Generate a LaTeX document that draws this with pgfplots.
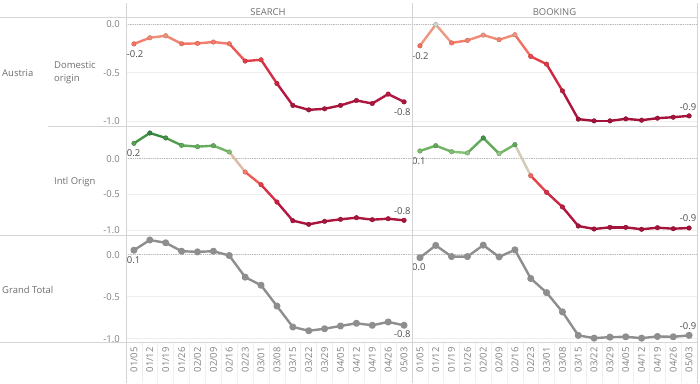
\documentclass[border=0pt]{standalone}
\usepackage{pgfplots}
\usepackage{pgfplotstable}
\pgfplotsset{compat=1.18}
\usepackage{fontspec}
\setmainfont{Open Sans}
\definecolor{hdr}{HTML}{6E6E6E}
\definecolor{tickc}{HTML}{808080}
\definecolor{border}{HTML}{D4D4D4}
\definecolor{gridc}{HTML}{EFEFEF}
\definecolor{zeroc}{HTML}{BDBDBD}
\definecolor{lbl}{HTML}{4D4D4D}
\definecolor{tot}{HTML}{8E8E8E}

\pgfplotstableread{
x sd bd si bi st bt
0 -0.200 -0.220 0.215 0.108 0.054 -0.035
1 -0.137 0.000 0.359 0.182 0.175 0.111
2 -0.116 -0.190 0.290 0.098 0.142 -0.022
3 -0.199 -0.164 0.187 0.080 0.042 -0.022
4 -0.195 -0.109 0.168 0.290 0.034 0.114
5 -0.181 -0.157 0.182 0.070 0.042 -0.026
6 -0.199 -0.105 0.094 0.196 -0.010 0.058
7 -0.378 -0.330 -0.186 -0.238 -0.267 -0.283
8 -0.365 -0.410 -0.364 -0.470 -0.364 -0.452
9 -0.610 -0.686 -0.606 -0.675 -0.612 -0.681
10 -0.837 -0.979 -0.867 -0.941 -0.861 -0.961
11 -0.883 -0.997 -0.918 -0.983 -0.906 -0.994
12 -0.872 -0.997 -0.876 -0.960 -0.882 -0.982
13 -0.837 -0.976 -0.848 -0.960 -0.849 -0.978
14 -0.786 -0.990 -0.825 -0.987 -0.817 -0.994
15 -0.817 -0.969 -0.853 -0.965 -0.841 -0.974
16 -0.720 -0.959 -0.839 -0.979 -0.801 -0.978
17 -0.800 -0.945 -0.862 -0.969 -0.841 -0.961
}\data

\tikzset{dlab/.style={font=\fontsize{9.5}{11}\selectfont, text=lbl, inner sep=0pt}}
\pgfplotsset{
  colormap={rg}{rgb255(0cm)=(163,18,58) rgb255(5cm)=(180,22,62) rgb255(10cm)=(212,45,70) rgb255(13cm)=(230,66,72) rgb255(16cm)=(245,118,102) rgb255(18cm)=(238,152,128) rgb255(20cm)=(206,215,195) rgb255(22cm)=(125,190,108) rgb255(24cm)=(92,166,86) rgb255(27cm)=(52,132,62) rgb255(30cm)=(36,105,61)},
  pane/.style={scale only axis, xmin=-0.5, xmax=17.5,
    axis line style={draw=none}, major tick length=0pt,
    xtick=\empty, ytick={-1,-0.5,0},
    ymajorgrids, grid style={draw=gridc, line width=0.8bp},
    tick label style={font=\fontsize{9.5}{11}\selectfont, text=tickc, inner sep=0pt},
    yticklabel style={xshift=-6bp},
    point meta min=-1, point meta max=0.5, colormap name=rg,
    clip=false, anchor=south west},
  searchc/.style={pane, width=286bp, yticklabels={-1.0,-0.5,0.0}},
  bookc/.style={pane, width=285bp, yticklabels={\empty,\empty,\empty}},
  row1/.style={height=108.7bp, ymin=-1.05, ymax=0.075},
  row2/.style={height=109bp, ymin=-1.067, ymax=0.457},
  row3/.style={height=107.5bp, ymin=-1.046, ymax=0.235},
  bottomx/.style={xtick={0,...,17},
    xticklabels={01/05,01/12,01/19,01/26,02/02,02/09,02/16,02/23,03/01,03/08,03/15,03/22,03/29,04/05,04/12,04/19,04/26,05/03},
    xticklabel style={rotate=90, anchor=east}, xticklabel shift=4.5bp},
}
\newcommand{\zeroline}{\draw[densely dotted, zeroc, line width=0.8bp] (axis cs:-0.5,0) -- (axis cs:17.5,0);}
\newcommand{\colseries}[1]{%
  \addplot[mesh, line width=2.4bp, line join=round, line cap=round, point meta=y] table[x=x,y=#1] {\data};
  \addplot[scatter, only marks, mark=*, mark size=2.3bp, scatter src=y] table[x=x,y=#1] {\data};
}
\newcommand{\greyseries}[1]{%
  \addplot[tot, line width=2.4bp, line join=round, mark=*, mark size=2.3bp] table[x=x,y=#1] {\data};
}

\begin{document}
\begin{tikzpicture}[x=1bp,y=1bp]
\path[use as bounding box] (0,0) rectangle (700,383);

% Row 1: Austria Domestic origin
\begin{axis}[searchc, row1, at={(126bp,257bp)}]
\zeroline
\colseries{sd}
\node[dlab, anchor=west, yshift=-10bp, xshift=0.7bp] at (axis cs:-0.5,-0.200) {-0.2};
\node[dlab, anchor=east, yshift=-10bp, xshift=-1.3bp] at (axis cs:17.5,-0.800) {-0.8};
\end{axis}
\begin{axis}[bookc, row1, at={(412bp,257bp)}]
\zeroline
\colseries{bd}
\node[dlab, anchor=west, yshift=-10bp] at (axis cs:-0.5,-0.220) {-0.2};
\node[dlab, anchor=east, yshift=9bp, xshift=-0.5bp] at (axis cs:17.5,-0.945) {-0.9};
\end{axis}

% Row 2: Austria Intl Orign
\begin{axis}[searchc, row2, at={(126bp,148bp)}]
\zeroline
\colseries{si}
\node[dlab, anchor=west, yshift=-10bp, xshift=0.7bp] at (axis cs:-0.5,0.215) {0.2};
\node[dlab, anchor=east, yshift=9.6bp, xshift=-1.3bp] at (axis cs:17.5,-0.862) {-0.8};
\end{axis}
\begin{axis}[bookc, row2, at={(412bp,148bp)}]
\zeroline
\colseries{bi}
\node[dlab, anchor=west, yshift=-9.7bp] at (axis cs:-0.5,0.108) {0.1};
\node[dlab, anchor=east, yshift=9.7bp, xshift=-0.5bp] at (axis cs:17.5,-0.969) {-0.9};
\end{axis}

% Row 3: Grand Total
\begin{axis}[searchc, row3, bottomx, at={(126bp,40.5bp)}]
\zeroline
\greyseries{st}
\node[dlab, anchor=west, yshift=-10bp, xshift=0.7bp] at (axis cs:-0.5,0.054) {0.1};
\node[dlab, anchor=east, yshift=-9bp, xshift=-1.3bp] at (axis cs:17.5,-0.841) {-0.8};
\end{axis}
\begin{axis}[bookc, row3, bottomx, at={(412bp,40.5bp)}]
\zeroline
\greyseries{bt}
\node[dlab, anchor=west, yshift=-9.3bp] at (axis cs:-0.5,-0.035) {0.0};
\node[dlab, anchor=east, yshift=9.3bp, xshift=-0.5bp] at (axis cs:17.5,-0.961) {-0.9};
\end{axis}

% faint separators between date labels
\foreach \k in {1,...,17} {
  \draw[gridc, line width=0.6bp] (126+15.889*\k,0) -- (126+15.889*\k,40.5);
  \draw[gridc, line width=0.6bp] (412+15.833*\k,0) -- (412+15.833*\k,40.5);
}

% table borders
\draw[border, line width=1bp] (0,365.7) -- (697,365.7);
\draw[border, line width=1bp] (48,257) -- (697,257);
\draw[border, line width=1bp] (0,148) -- (697,148);
\draw[border, line width=1bp] (0,40.5) -- (697,40.5);
\draw[border, line width=1bp] (126,0) -- (126,380);
\draw[border, line width=1bp] (412,0) -- (412,380);
\draw[border, line width=1bp] (697,0) -- (697,380);

% headers
\node[font=\fontsize{9.5}{11}\selectfont, text=hdr] at (268,371.3) {SEARCH};
\node[font=\fontsize{9.5}{11}\selectfont, text=hdr] at (554.5,371.3) {BOOKING};
\node[font=\fontsize{9.5}{11}\selectfont, text=hdr, anchor=west, inner sep=0pt] at (2,310) {Austria};
\node[font=\fontsize{9.5}{13.3}\selectfont, text=hdr, anchor=west, inner sep=0pt, align=left] at (54,310) {Domestic\\origin};
\node[font=\fontsize{9.5}{11}\selectfont, text=hdr, anchor=west, inner sep=0pt] at (54,201.3) {Intl Orign};
\node[font=\fontsize{9.5}{11}\selectfont, text=hdr, anchor=west, inner sep=0pt] at (2,93) {Grand Total};
\end{tikzpicture}
\end{document}
